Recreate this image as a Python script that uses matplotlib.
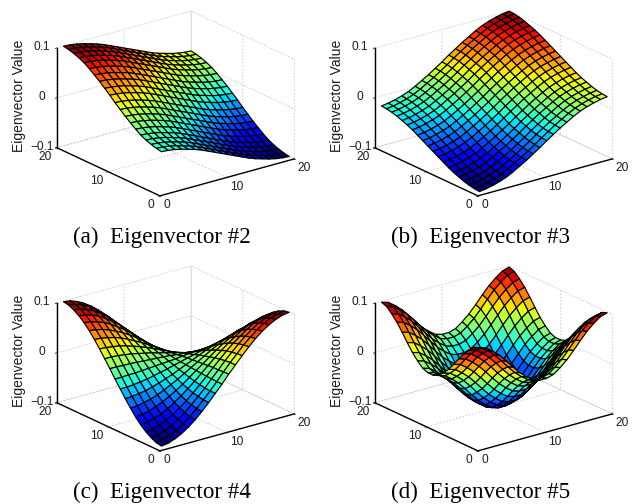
import numpy as np
import matplotlib
matplotlib.use("Agg")
import matplotlib.pyplot as plt
from matplotlib.transforms import ScaledTranslation

# Values, in thousandths of an eigenvector unit.
grid_axis = list(range(1, 21))
tick_xy = [0, 10, 20]
tick_z = [-0.1, 0, 0.1]
tick_xy_labels = ["0", "10", "20"]
tick_z_labels = ["\u22120.1", "0", "0.1"]
captions = ["(a)  Eigenvector #2", "(b)  Eigenvector #3", "(c)  Eigenvector #4", "(d)  Eigenvector #5"]
z_label = "Eigenvector Value"

eig2 = [
[-20,-21,-23,-26,-30,-34,-39,-45,-51,-57,-63,-69,-75,-81,-86,-90,-94,-97,-99,-100],
[-18,-19,-21,-24,-28,-32,-37,-43,-49,-55,-61,-67,-73,-79,-84,-88,-92,-95,-97,-98],
[-15,-16,-18,-21,-25,-29,-34,-40,-46,-52,-58,-64,-70,-76,-81,-85,-89,-92,-94,-95],
[-11,-12,-14,-17,-21,-25,-30,-36,-42,-48,-54,-60,-66,-72,-77,-81,-85,-88,-90,-91],
[-6,-7,-9,-12,-16,-20,-25,-31,-37,-43,-49,-55,-61,-67,-72,-76,-80,-83,-85,-86],
[1,0,-2,-5,-9,-13,-18,-24,-30,-36,-42,-48,-54,-60,-65,-69,-73,-76,-78,-79],
[9,8,6,3,-1,-5,-10,-16,-22,-28,-34,-40,-46,-52,-57,-61,-65,-68,-70,-71],
[17,16,14,11,7,3,-2,-8,-14,-20,-26,-32,-38,-44,-49,-53,-57,-60,-62,-63],
[26,25,23,20,16,12,7,1,-5,-11,-17,-23,-29,-35,-40,-44,-48,-51,-53,-54],
[35,34,32,29,25,21,16,10,4,-2,-8,-14,-20,-26,-31,-35,-39,-42,-44,-45],
[45,44,42,39,35,31,26,20,14,8,2,-4,-10,-16,-21,-25,-29,-32,-34,-35],
[54,53,51,48,44,40,35,29,23,17,11,5,-1,-7,-12,-16,-20,-23,-25,-26],
[63,62,60,57,53,49,44,38,32,26,20,14,8,2,-3,-7,-11,-14,-16,-17],
[71,70,68,65,61,57,52,46,40,34,28,22,16,10,5,1,-3,-6,-8,-9],
[79,78,76,73,69,65,60,54,48,42,36,30,24,18,13,9,5,2,0,-1],
[86,85,83,80,76,72,67,61,55,49,43,37,31,25,20,16,12,9,7,6],
[91,90,88,85,81,77,72,66,60,54,48,42,36,30,25,21,17,14,12,11],
[95,94,92,89,85,81,76,70,64,58,52,46,40,34,29,25,21,18,16,15],
[98,97,95,92,88,84,79,73,67,61,55,49,43,37,32,28,24,21,19,18],
[100,99,97,94,90,86,81,75,69,63,57,51,45,39,34,30,26,23,21,20],
]

eig3 = [
[-100,-98,-95,-91,-86,-79,-71,-63,-54,-45,-35,-26,-17,-9,-1,6,11,15,18,20],
[-99,-97,-94,-90,-85,-78,-70,-62,-53,-44,-34,-25,-16,-8,0,7,12,16,19,21],
[-97,-95,-92,-88,-83,-76,-68,-60,-51,-42,-32,-23,-14,-6,2,9,14,18,21,23],
[-94,-92,-89,-85,-80,-73,-65,-57,-48,-39,-29,-20,-11,-3,5,12,17,21,24,26],
[-90,-88,-85,-81,-76,-69,-61,-53,-44,-35,-25,-16,-7,1,9,16,21,25,28,30],
[-86,-84,-81,-77,-72,-65,-57,-49,-40,-31,-21,-12,-3,5,13,20,25,29,32,34],
[-81,-79,-76,-72,-67,-60,-52,-44,-35,-26,-16,-7,2,10,18,25,30,34,37,39],
[-75,-73,-70,-66,-61,-54,-46,-38,-29,-20,-10,-1,8,16,24,31,36,40,43,45],
[-69,-67,-64,-60,-55,-48,-40,-32,-23,-14,-4,5,14,22,30,37,42,46,49,51],
[-63,-61,-58,-54,-49,-42,-34,-26,-17,-8,2,11,20,28,36,43,48,52,55,57],
[-57,-55,-52,-48,-43,-36,-28,-20,-11,-2,8,17,26,34,42,49,54,58,61,63],
[-51,-49,-46,-42,-37,-30,-22,-14,-5,4,14,23,32,40,48,55,60,64,67,69],
[-45,-43,-40,-36,-31,-24,-16,-8,1,10,20,29,38,46,54,61,66,70,73,75],
[-39,-37,-34,-30,-25,-18,-10,-2,7,16,26,35,44,52,60,67,72,76,79,81],
[-34,-32,-29,-25,-20,-13,-5,3,12,21,31,40,49,57,65,72,77,81,84,86],
[-30,-28,-25,-21,-16,-9,-1,7,16,25,35,44,53,61,69,76,81,85,88,90],
[-26,-24,-21,-17,-12,-5,3,11,20,29,39,48,57,65,73,80,85,89,92,94],
[-23,-21,-18,-14,-9,-2,6,14,23,32,42,51,60,68,76,83,88,92,95,97],
[-21,-19,-16,-12,-7,0,8,16,25,34,44,53,62,70,78,85,90,94,97,99],
[-20,-18,-15,-11,-6,1,9,17,26,35,45,54,63,71,79,86,91,95,98,100],
]

eig4 = [
[-99,-97,-92,-85,-76,-65,-52,-38,-23,-8,8,23,38,52,65,76,85,92,97,99],
[-97,-94,-90,-83,-74,-63,-51,-37,-23,-8,8,23,37,51,63,74,83,90,94,97],
[-92,-90,-85,-79,-70,-60,-48,-35,-22,-7,7,22,35,48,60,70,79,85,90,92],
[-85,-83,-79,-73,-65,-55,-45,-33,-20,-7,7,20,33,45,55,65,73,79,83,85],
[-76,-74,-70,-65,-58,-49,-40,-29,-18,-6,6,18,29,40,49,58,65,70,74,76],
[-65,-63,-60,-55,-49,-42,-34,-25,-15,-5,5,15,25,34,42,49,55,60,63,65],
[-52,-51,-48,-45,-40,-34,-27,-20,-12,-4,4,12,20,27,34,40,45,48,51,52],
[-38,-37,-35,-33,-29,-25,-20,-15,-9,-3,3,9,15,20,25,29,33,35,37,38],
[-23,-23,-22,-20,-18,-15,-12,-9,-5,-2,2,5,9,12,15,18,20,22,23,23],
[-8,-8,-7,-7,-6,-5,-4,-3,-2,-1,1,2,3,4,5,6,7,7,8,8],
[8,8,7,7,6,5,4,3,2,1,-1,-2,-3,-4,-5,-6,-7,-7,-8,-8],
[23,23,22,20,18,15,12,9,5,2,-2,-5,-9,-12,-15,-18,-20,-22,-23,-23],
[38,37,35,33,29,25,20,15,9,3,-3,-9,-15,-20,-25,-29,-33,-35,-37,-38],
[52,51,48,45,40,34,27,20,12,4,-4,-12,-20,-27,-34,-40,-45,-48,-51,-52],
[65,63,60,55,49,42,34,25,15,5,-5,-15,-25,-34,-42,-49,-55,-60,-63,-65],
[76,74,70,65,58,49,40,29,18,6,-6,-18,-29,-40,-49,-58,-65,-70,-74,-76],
[85,83,79,73,65,55,45,33,20,7,-7,-20,-33,-45,-55,-65,-73,-79,-83,-85],
[92,90,85,79,70,60,48,35,22,7,-7,-22,-35,-48,-60,-70,-79,-85,-90,-92],
[97,94,90,83,74,63,51,37,23,8,-8,-23,-37,-51,-63,-74,-83,-90,-94,-97],
[99,97,92,85,76,65,52,38,23,8,-8,-23,-38,-52,-65,-76,-85,-92,-97,-99],
]

eig5 = [
[98,94,84,72,57,41,26,14,4,0,0,4,14,26,41,57,72,84,94,98],
[94,90,80,68,53,37,22,10,0,-4,-4,0,10,22,37,53,68,80,90,94],
[84,80,70,58,43,27,12,0,-10,-14,-14,-10,0,12,27,43,58,70,80,84],
[72,68,58,46,31,15,0,-12,-22,-26,-26,-22,-12,0,15,31,46,58,68,72],
[57,53,43,31,16,0,-15,-27,-37,-41,-41,-37,-27,-15,0,16,31,43,53,57],
[41,37,27,15,0,-16,-31,-43,-53,-57,-57,-53,-43,-31,-16,0,15,27,37,41],
[26,22,12,0,-15,-31,-46,-58,-68,-72,-72,-68,-58,-46,-31,-15,0,12,22,26],
[14,10,0,-12,-27,-43,-58,-70,-80,-84,-84,-80,-70,-58,-43,-27,-12,0,10,14],
[4,0,-10,-22,-37,-53,-68,-80,-90,-94,-94,-90,-80,-68,-53,-37,-22,-10,0,4],
[0,-4,-14,-26,-41,-57,-72,-84,-94,-98,-98,-94,-84,-72,-57,-41,-26,-14,-4,0],
[0,-4,-14,-26,-41,-57,-72,-84,-94,-98,-98,-94,-84,-72,-57,-41,-26,-14,-4,0],
[4,0,-10,-22,-37,-53,-68,-80,-90,-94,-94,-90,-80,-68,-53,-37,-22,-10,0,4],
[14,10,0,-12,-27,-43,-58,-70,-80,-84,-84,-80,-70,-58,-43,-27,-12,0,10,14],
[26,22,12,0,-15,-31,-46,-58,-68,-72,-72,-68,-58,-46,-31,-15,0,12,22,26],
[41,37,27,15,0,-16,-31,-43,-53,-57,-57,-53,-43,-31,-16,0,15,27,37,41],
[57,53,43,31,16,0,-15,-27,-37,-41,-41,-37,-27,-15,0,16,31,43,53,57],
[72,68,58,46,31,15,0,-12,-22,-26,-26,-22,-12,0,15,31,46,58,68,72],
[84,80,70,58,43,27,12,0,-10,-14,-14,-10,0,12,27,43,58,70,80,84],
[94,90,80,68,53,37,22,10,0,-4,-4,0,10,22,37,53,68,80,90,94],
[98,94,84,72,57,41,26,14,4,0,0,4,14,26,41,57,72,84,94,98],
]

W, H = 632, 504
fig = plt.figure(figsize=(W / 100, H / 100), dpi=100, facecolor="white")
cmap = plt.get_cmap("jet", 64)
SIDE = 262
TEXT = "#1c1c1c"

panels = [
    (eig2, 172, 107, 162, 237),
    (eig3, 490, 107, 481, 237),
    (eig4, 172, 362, 162, 492),
    (eig5, 490, 362, 481, 492),
]


def nudge_tick_labels(ax, axis, dy_pixels):
    """Keep a small vertical offset on 3D tick labels, which get_major_ticks resets."""
    original = axis.get_major_ticks

    def patched(numticks=None):
        ticks = original(numticks)
        shift = ScaledTranslation(0, dy_pixels / 100, fig.dpi_scale_trans)
        for tick in ticks:
            tick.label1.set_transform(ax.transData + shift)
        return ticks

    axis.get_major_ticks = patched


for (values, cx, cy, tx, ty), caption in zip(panels, captions):
    ax = fig.add_axes([(cx - SIDE / 2) / W, 1 - (cy + SIDE / 2) / H, SIDE / W, SIDE / H],
                      projection="3d", proj_type="ortho")
    ax.patch.set_alpha(0)
    ax.view_init(elev=21, azim=-127.5)
    ax.set_box_aspect((1, 1, 0.63), zoom=0.972)

    X, Y = np.meshgrid(grid_axis, grid_axis)
    Z = np.array(values) / 1000.0
    colors = cmap((Z - Z.min()) / (Z.max() - Z.min()))
    ax.plot_surface(X, Y, Z, rstride=1, cstride=1, facecolors=colors, shade=False,
                    edgecolor="black", linewidth=0.85, antialiased=True)

    ax.set_xlim(0, 20)
    ax.set_ylim(0, 20)
    ax.set_zlim(-0.1, 0.1)
    ax.set_xticks(tick_xy)
    ax.set_yticks(tick_xy)
    ax.set_zticks(tick_z)
    ax.tick_params(axis="x", labelsize=8.6, pad=-5, colors=TEXT)
    ax.tick_params(axis="y", labelsize=8.6, pad=-4, colors=TEXT)
    ax.tick_params(axis="z", labelsize=8.6, pad=-2, colors=TEXT)
    ax.set_xticklabels(tick_xy_labels, family="Liberation Sans", ha="left", va="center")
    ax.set_yticklabels(tick_xy_labels, family="Liberation Sans", ha="right", va="center")
    ax.set_zticklabels(tick_z_labels, family="Liberation Sans", va="center")
    nudge_tick_labels(ax, ax.xaxis, -5)
    nudge_tick_labels(ax, ax.yaxis, -4)

    for axis in (ax.xaxis, ax.yaxis, ax.zaxis):
        axis.set_pane_color((1, 1, 1, 0))
        axis.pane.set_edgecolor("#c8c8c8")
        axis.pane.set_linestyle((0, (2, 2)))
        axis.pane.set_linewidth(0.6)
        axis._axinfo["grid"].update(color="#c8c8c8", linewidth=0.6, linestyle=(0, (2, 2)))
        axis._axinfo["axisline"]["color"] = "black"
        axis.line.set_color("black")
        axis.line.set_linewidth(1.0)
        axis._axinfo["tick"].update(inward_factor=0.12, outward_factor=0.0, color="black", linewidth={True: 0.6, False: 0.6})
    ax.zaxis.set_ticks_position("upper")
    ax.zaxis.set_label_position("upper")
    ax.zaxis.set_rotate_label(False)
    ax.set_zlabel(z_label, rotation=90, fontsize=10, family="Liberation Sans", labelpad=-5.5, color=TEXT)

    fig.text(tx / W, 1 - ty / H, caption, ha="center", va="center", fontsize=16.7,
             family="Liberation Serif", color="black")

fig.savefig("out.png", dpi=100)
